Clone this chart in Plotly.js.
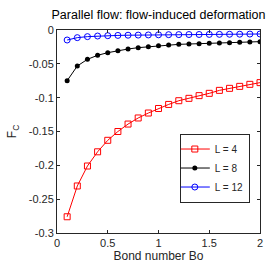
<!DOCTYPE html>
<html><head><meta charset="utf-8">
<script src="https://cdn.plot.ly/plotly-3.0.1.min.js"></script>
<style>html,body{margin:0;padding:0;background:#fff}#chart{width:271px;height:271px}</style>
</head><body><div id="chart"></div>
<script>
var bo = [0.1,0.2,0.3,0.4,0.5,0.6,0.7,0.8,0.9,1.0,1.1,1.2,1.3,1.4,1.5,1.6,1.7,1.8,1.9,2.0];
var fcL4 = [-0.276,-0.2305,-0.201,-0.180,-0.163,-0.150,-0.139,-0.130,-0.1227,-0.116,-0.110,-0.1045,-0.101,-0.097,-0.0936,-0.0892,-0.0862,-0.0833,-0.0803,-0.0778];
var fcL8 = [-0.0749,-0.0532,-0.0433,-0.0374,-0.0335,-0.0305,-0.0281,-0.0261,-0.0246,-0.0232,-0.0222,-0.0212,-0.0207,-0.0202,-0.0197,-0.0192,-0.0187,-0.0182,-0.0177,-0.0172];
var fcL12 = [-0.0148,-0.0113,-0.0098,-0.0089,-0.0084,-0.0080,-0.0077,-0.0075,-0.0073,-0.0071,-0.0069,-0.0068,-0.0067,-0.0066,-0.0065,-0.0064,-0.0063,-0.0062,-0.0060,-0.0059];
var names = ['L = 4','L = 8','L = 12'];
var xTicks = [0,0.5,1,1.5,2];
var xTickText = ['0','0.5','1','1.5','2'];
var yTicks = [0,-0.05,-0.1,-0.15,-0.2,-0.25,-0.3];
var yTickText = ['0','-0.05','-0.1','-0.15','-0.2','-0.25','-0.3'];

var font = 'Liberation Sans, Arial, sans-serif';
var traces = [
  {x: bo, y: fcL4, name: names[0], mode: 'lines+markers', line: {color: '#ff0000', width: 1},
   marker: {symbol: 'square-open', size: 6, color: '#ff0000', line: {width: 1}}},
  {x: bo, y: fcL8, name: names[1], mode: 'lines+markers', line: {color: '#000000', width: 1},
   marker: {symbol: 'circle', size: 5, color: '#000000'}},
  {x: bo, y: fcL12, name: names[2], mode: 'lines+markers', line: {color: '#0000ff', width: 1},
   marker: {symbol: 'circle-open', size: 6, color: '#0000ff', line: {width: 1}}}
];
var axisCommon = {showline: true, linecolor: '#262626', linewidth: 1, mirror: 'ticks', ticks: 'inside',
  ticklen: 3, tickcolor: '#262626', showgrid: false, zeroline: false,
  tickfont: {family: font, size: 11, color: '#262626'}};
var layout = {
  width: 271, height: 271,
  margin: {l: 57, r: 11, t: 30, b: 38},
  paper_bgcolor: '#fff', plot_bgcolor: '#fff',
  showlegend: true,
  title: {text: 'Parallel flow: flow-induced deformation', font: {family: font, size: 12.5, color: '#000'},
    x: 0.585, xanchor: 'center', y: 0.945, yanchor: 'middle'},
  xaxis: Object.assign({}, axisCommon, {range: [0, 2], tickvals: xTicks, ticktext: xTickText,
    title: {text: 'Bond number Bo', font: {family: font, size: 12, color: '#262626'}, standoff: 3}}),
  yaxis: Object.assign({}, axisCommon, {range: [-0.3, 0], tickvals: yTicks, ticktext: yTickText,
    title: {text: 'F<sub>C</sub>', font: {family: font, size: 12, color: '#262626'}, standoff: 9}}),
  legend: {x: 0.605, y: 0.49, xanchor: 'left', yanchor: 'top', bgcolor: '#fff', bordercolor: '#262626',
    borderwidth: 1, font: {family: font, size: 10, color: '#262626'}, tracegroupgap: 0, itemwidth: 30,
    indentation: -6}
};
Plotly.newPlot('chart', traces, layout, {displayModeBar: false, staticPlot: true});
</script></body></html>
